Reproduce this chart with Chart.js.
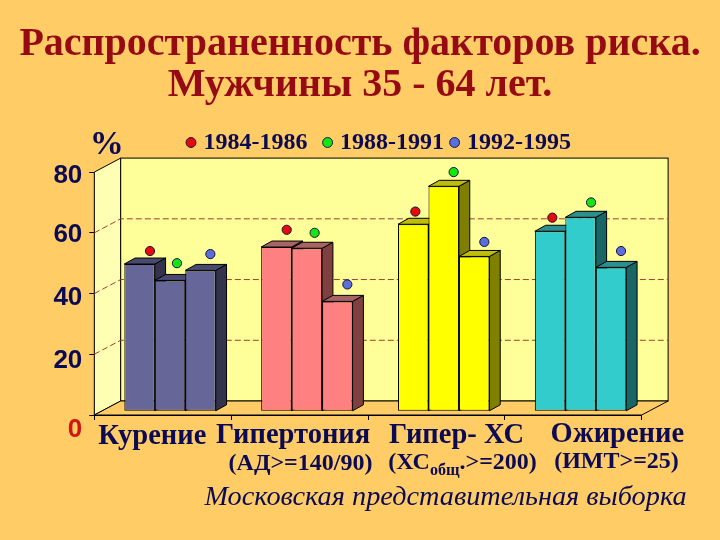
<!DOCTYPE html>
<html><head><meta charset="utf-8">
<script src="https://cdn.jsdelivr.net/npm/chart.js@4"></script>
<style>html,body{margin:0;padding:0;background:#FFCC66}canvas{display:block}</style>
</head><body><canvas id="c" width="720" height="540"></canvas>
<script>
const titleLines = ["Распространенность факторов риска.", "Мужчины 35 - 64 лет."];
const categories = ["Курение", "Гипертония", "Гипер- ХС", "Ожирение"];
const subLabels = ["", "(АД>=140/90)", ["(ХС", "общ", ".>=200)"], "(ИМТ>=25)"];
const footerText = "Московская представительная выборка";
const unitText = "%";
const periods = ["1984-1986", "1988-1991", "1992-1995"];
const yTicks = [0, 20, 40, 60, 80];

const bars1 = [48.5, 54.1, 61.6, 59.3];
const bars2 = [43.1, 53.7, 74.1, 63.9];
const bars3 = [46.4, 36.2, 51.0, 47.4];

const dots1 = [54, 61, 67, 65];
const dots2 = [50, 60, 80, 70];
const dots3 = [53, 43, 57, 54];
const dotsAt1 = [-0.093, 0.906, 1.846, 2.847];
const dotsAt2 = [0.104, 1.110, 2.126, 3.130];
const dotsAt3 = [0.348, 1.349, 2.350, 3.349];

const barColors = ["#666699", "#FF8080", "#FFFF00", "#33CCCC"];
const barTopColors = ["#4A4A70", "#A86464", "#BDBD0A", "#2A9090"];
const barSideColors = ["#33334D", "#804040", "#808000", "#1A6666"];
const dotColors = ["#E60A0A", "#14E614", "#5A6FDC"];
const NAVY = "#0A0A55", DARKRED = "#960A14", BG = "#FFCC66";

const DEPTH = {x: 26.4, y: -14};
const BARSHIFT = {x: 7.3, y: -3.7};
const BARDEPTH = {x: 10.8, y: -6};
const TICK_LABEL_DROP = {0: 15, 20: 6.6, 40: 4, 60: 2, 80: 4};

const scene = {
  id: "scene",
  afterLayout(chart) { chart.legend.left = 180.5; },
  beforeDatasetsDraw(chart) {
    const {ctx, scales: {x, y}} = chart;
    const L = x.left, R = x.right, T = y.getPixelForValue(80), B = y.getPixelForValue(0);
    const dx = DEPTH.x, dy = DEPTH.y;
    ctx.save();
    ctx.lineWidth = 1; ctx.strokeStyle = "#000";
    ctx.fillStyle = "#FFFFB4";
    ctx.beginPath(); ctx.moveTo(L, T); ctx.lineTo(L + dx, T + dy); ctx.lineTo(L + dx, B + dy); ctx.lineTo(L, B); ctx.closePath(); ctx.fill(); ctx.stroke();
    ctx.fillStyle = "#FFFF99";
    ctx.fillRect(L + dx, T + dy, R - L, B - T); ctx.strokeRect(L + dx, T + dy, R - L, B - T);
    ctx.fillStyle = BG;
    ctx.beginPath(); ctx.moveTo(L, B); ctx.lineTo(L + dx, B + dy); ctx.lineTo(R + dx, B + dy); ctx.lineTo(R, B); ctx.closePath(); ctx.fill(); ctx.stroke();
    ctx.save();
    ctx.strokeStyle = "#A03C32"; ctx.setLineDash([6, 3]);
    yTicks.slice(1, -1).forEach(v => {
      const p = y.getPixelForValue(v);
      ctx.beginPath(); ctx.moveTo(L, p); ctx.lineTo(L + dx, p + dy); ctx.lineTo(R + dx, p + dy); ctx.stroke();
    });
    ctx.restore();
    ctx.translate(BARSHIFT.x, BARSHIFT.y);
    [0, 1, 2].forEach(k => {
      chart.getDatasetMeta(k).data.forEach((el, i) => {
        const l = el.x - el.width / 2, r = el.x + el.width / 2, t = el.y, b = el.base;
        const ox = BARDEPTH.x, oy = BARDEPTH.y;
        ctx.fillStyle = barSideColors[i];
        ctx.beginPath(); ctx.moveTo(r, t); ctx.lineTo(r + ox, t + oy); ctx.lineTo(r + ox, b + oy); ctx.lineTo(r, b); ctx.closePath(); ctx.fill(); ctx.stroke();
        ctx.fillStyle = barTopColors[i];
        ctx.beginPath(); ctx.moveTo(l, t); ctx.lineTo(l + ox, t + oy); ctx.lineTo(r + ox, t + oy); ctx.lineTo(r, t); ctx.closePath(); ctx.fill(); ctx.stroke();
      });
    });
    ctx.restore();
  },
  beforeDatasetDraw(chart, args) {
    if (args.meta.type !== "bar") return;
    chart.ctx.save();
    chart.ctx.translate(BARSHIFT.x, BARSHIFT.y);
  },
  afterDatasetDraw(chart, args) {
    if (args.meta.type !== "bar") return;
    chart.ctx.restore();
  },
  afterDraw(chart) {
    const {ctx, scales: {x, y}} = chart;
    const nameShift = [-10.5, -6.5, 20, 44];
    const nameY = [437, 436, 436, 435];
    const subCenter = [0, 300.5, 462.5, 616.5];
    const subY = [0, 464, 463, 462];
    const main = "bold 24px 'Liberation Serif'", small = "bold 16px 'Liberation Serif'";
    ctx.save();
    ctx.textBaseline = "middle"; ctx.textAlign = "center"; ctx.fillStyle = NAVY;
    ctx.font = "bold 34px 'Liberation Serif'";
    ctx.fillText(unitText, x.left + 12.5, y.top - 27);
    ctx.font = "bold 28.5px 'Liberation Serif'";
    categories.forEach((c, i) => ctx.fillText(c, x.getPixelForValue(i) + nameShift[i], nameY[i]));
    ctx.font = main;
    subLabels.forEach((s, i) => {
      if (!s) return;
      if (typeof s === "string") { ctx.fillText(s, subCenter[i], subY[i]); return; }
      ctx.font = main; const w0 = ctx.measureText(s[0]).width, w2 = ctx.measureText(s[2]).width;
      ctx.font = small; const w1 = ctx.measureText(s[1]).width;
      let px = subCenter[i] - (w0 + w1 + w2) / 2;
      ctx.textAlign = "left";
      ctx.font = main; ctx.fillText(s[0], px, subY[i]); px += w0;
      ctx.font = small; ctx.fillText(s[1], px, subY[i] + 8); px += w1;
      ctx.font = main; ctx.fillText(s[2], px, subY[i]);
      ctx.textAlign = "center";
    });
    ctx.font = "italic 28.3px 'Liberation Serif'";
    ctx.fillText(footerText, 445.5, 498);
    ctx.restore();
  }
};

const barSeries = [bars1, bars2, bars3].map((vals, k) => ({
  type: "bar", label: periods[k] + " столбцы", order: 2, clip: false,
  data: vals.map((v, i) => ({x: i, y: v})),
  backgroundColor: barColors, borderColor: "#000", borderWidth: 1, borderSkipped: false,
  barPercentage: 1, categoryPercentage: 0.668
}));
const dotSeries = [[dots1, dotsAt1], [dots2, dotsAt2], [dots3, dotsAt3]].map(([vals, at], k) => ({
  type: "scatter", label: periods[k], order: 1, clip: false,
  data: vals.map((v, i) => ({x: at[i], y: v})),
  backgroundColor: dotColors[k], borderColor: "#14143C", borderWidth: 1,
  pointBackgroundColor: dotColors[k], pointBorderColor: "#14143C", pointBorderWidth: 1,
  pointRadius: 4.6, pointHoverRadius: 4.6, pointStyle: "circle"
}));

new Chart(document.getElementById("c"), {
  type: "bar",
  data: {datasets: [...barSeries, ...dotSeries]},
  plugins: [scene],
  options: {
    responsive: false, animation: false, devicePixelRatio: 1,
    layout: {padding: {top: 24.5, left: 0, right: 0, bottom: 120}},
    plugins: {
      tooltip: {enabled: false},
      title: {
        display: true, text: titleLines, color: DARKRED,
        font: {family: "'Liberation Serif'", size: 40, weight: "bold", lineHeight: 41 / 40},
        padding: {top: 0, bottom: 14}
      },
      legend: {
        display: true, position: "top", align: "start",
        labels: {
          usePointStyle: true, boxWidth: 1, boxHeight: 7, padding: 10, color: NAVY,
          font: {family: "'Liberation Serif'", size: 24, weight: "bold"},
          filter: item => item.datasetIndex >= 3,
          generateLabels(chart) {
            const items = Chart.defaults.plugins.legend.labels.generateLabels(chart);
            items.forEach(it => { if (it.datasetIndex === 3) it.text += "\u2009\u2009"; });
            return items;
          }
        }
      }
    },
    scales: {
      x: {
        type: "linear", position: "bottom", min: -0.5, max: 3.5, offset: false,
        afterBuildTicks(s) { s.ticks = [-0.5, 0.5, 1.5, 2.5, 3.5].map(v => ({value: v})); },
        grid: {drawOnChartArea: false, drawTicks: true, tickLength: 5, color: "#000", offset: false},
        border: {color: "#000"},
        ticks: {display: false},
        afterFit(s) { s.height = 5; s.paddingLeft = s.paddingRight = 0; }
      },
      topSpacer: {
        type: "linear", axis: "x", position: "top",
        grid: {display: false}, border: {display: false}, ticks: {display: false},
        afterFit(s) { s.height = 7.6; s.paddingLeft = s.paddingRight = 0; }
      },
      y: {
        type: "linear", position: "left", min: 0, max: 80,
        afterBuildTicks(s) { s.ticks = yTicks.map(v => ({value: v})); },
        grid: {drawOnChartArea: false, drawTicks: true, tickLength: 5, color: "#000"},
        border: {color: "#000"},
        ticks: {
          padding: 7, autoSkip: false,
          font: ctx => ({family: "'Liberation Sans'", size: 26, weight: "bold",
            lineHeight: ctx.tick ? 2 * TICK_LABEL_DROP[ctx.tick.value] / 26 : 1}),
          color: ctx => ctx.tick && ctx.tick.value === 0 ? "#D21414" : NAVY,
          callback: v => ["", String(v)]
        },
        afterFit(s) { s.width = 94.3; s.paddingTop = s.paddingBottom = 0; }
      },
      rightSpacer: {
        type: "linear", axis: "y", position: "right", min: 0, max: 80,
        grid: {display: false}, border: {display: false}, ticks: {display: false},
        afterFit(s) { s.width = 78.3; s.paddingTop = s.paddingBottom = 0; }
      }
    }
  }
});
</script></body></html>
